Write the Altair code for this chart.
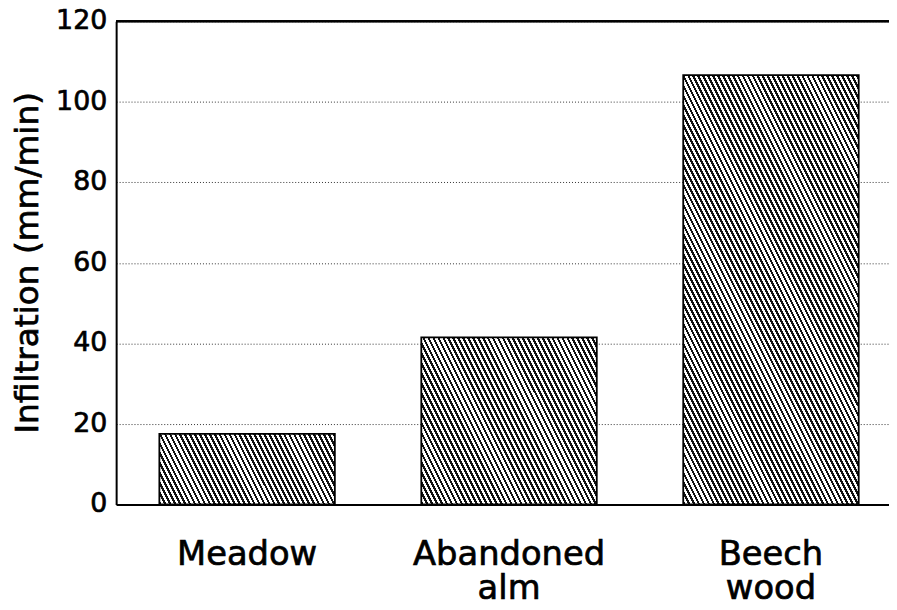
import math
import altair as alt
import pandas as pd

categories = ["Meadow", "Abandoned alm", "Beech wood"]
infiltration = [17.5, 41.5, 106.6]
y_ticks = [0, 20, 40, 60, 80, 100, 120]
y_title = "Infiltration (mm/min)"

df = pd.DataFrame({"site": categories, "infiltration": infiltration})
ticks_df = pd.DataFrame({"infiltration": y_ticks})

W, H = 779, 487
Y_MAX = 120
P_INNER, P_OUTER, ALIGN = 0.33, 0.1403, 0.588
STEP = math.floor(W / (len(categories) - P_INNER + 2 * P_OUTER))
BAR_W = STEP * (1 - P_INNER)


def hatch(value, slope=2.0, period_h=5.0, frac=0.47):
    """Diagonal hatch gradient for a bar of the given value."""
    w = BAR_W
    h = value / Y_MAX * H
    norm = math.hypot(slope, 1.0)
    nx, ny = slope / norm, -1.0 / norm
    ext = abs(nx) * w + abs(ny) * h
    a, b = nx * w / ext, ny * h / ext
    d2 = a * a + b * b
    p = period_h * nx / ext
    stops = []
    k = 0
    while k * p < 1:
        o0 = k * p
        o1 = min(1.0, o0 + frac * p)
        o2 = min(1.0, o0 + p)
        stops += [
            {"offset": round(o0, 5), "color": "#111111"},
            {"offset": round(o1, 5), "color": "#111111"},
            {"offset": round(o1, 5), "color": "#ffffff"},
            {"offset": round(o2, 5), "color": "#ffffff"},
        ]
        k += 1
    return {
        "gradient": "linear",
        "x1": 0, "y1": 1,
        "x2": round(a / d2, 6), "y2": round(1 + b / d2, 6),
        "stops": stops,
    }


FONT = "DejaVu Sans"
TXT = dict(font=FONT, color="black", stroke="black", strokeWidth=0.7)

x_scale = alt.Scale(paddingInner=P_INNER, paddingOuter=P_OUTER, align=ALIGN)
y_scale = alt.Scale(domain=[0, Y_MAX], nice=False)

x_axis = alt.Axis(title=None, labels=False, ticks=False,
                  domainColor="black", domainWidth=2)
y_axis = alt.Axis(
    title=None, labels=False, values=y_ticks, ticks=False,
    domainColor="black", domainWidth=2,
    grid=True, gridColor="#333333", gridDash=[1, 2], gridWidth=1,
)

x_enc = alt.X("site:N", sort=categories, scale=x_scale, axis=x_axis)
y_enc = alt.Y("infiltration:Q", scale=y_scale, axis=y_axis)

layers = []
for cat, val in zip(categories, infiltration):
    layers.append(
        alt.Chart(df)
        .transform_filter(alt.datum.site == cat)
        .mark_bar(fill=hatch(val), stroke="black", strokeWidth=1.8)
        .encode(x=x_enc, y=y_enc)
    )

top = alt.Chart(df).mark_rule(color="black", strokeWidth=2).encode(y=alt.datum(Y_MAX))

x_labels = (
    alt.Chart(df)
    .mark_text(fontSize=34, lineBreak=" ", lineHeight=34, baseline="alphabetic",
               align="center", **TXT)
    .encode(x=x_enc, y=alt.value(H + 61), text="site:N")
)

y_labels = (
    alt.Chart(ticks_df)
    .mark_text(fontSize=27, align="right", baseline="middle", **TXT)
    .encode(y=y_enc, x=alt.value(-9), text="infiltration:Q")
)

title = (
    alt.Chart(pd.DataFrame({"t": [y_title]}))
    .mark_text(fontSize=33, angle=270, align="center", baseline="alphabetic", **TXT)
    .encode(x=alt.value(-79), y=alt.value(H / 2), text="t:N")
)

chart = (
    alt.layer(*layers, top, x_labels, y_labels, title)
    .properties(
        width=W, height=H,
        autosize=alt.AutoSizeParams(type="none"),
        padding={"left": 109, "top": 11, "right": 0, "bottom": 96},
    )
    .configure_view(stroke=None)
    .configure(background="white")
)

chart.save("out.html", embed_options={"renderer": "svg", "actions": False})
